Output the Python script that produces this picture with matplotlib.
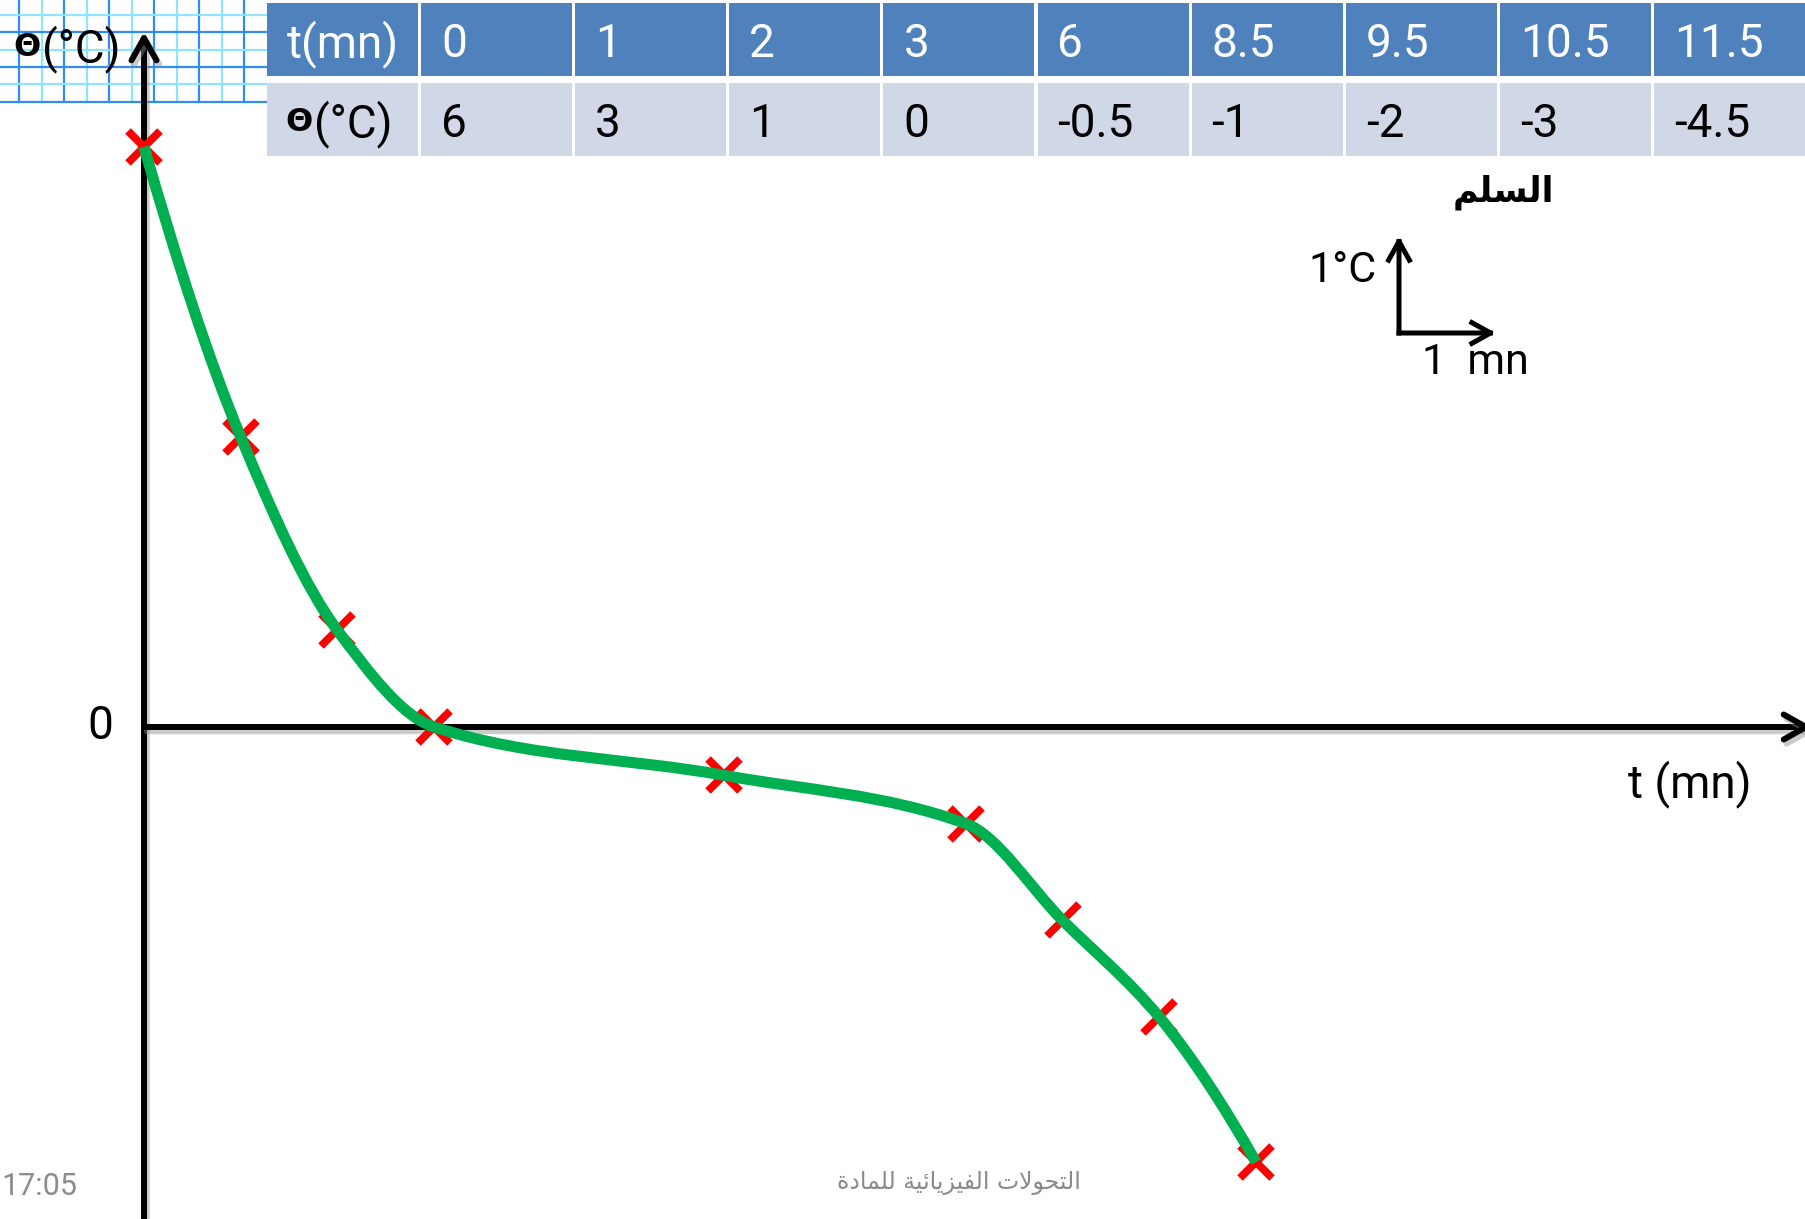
import numpy as np
import matplotlib
matplotlib.use("Agg")
import matplotlib.pyplot as plt
from matplotlib.path import Path
from matplotlib.patches import PathPatch, Rectangle, FancyArrowPatch, ArrowStyle
from matplotlib.lines import Line2D
import matplotlib.patheffects as pe

# ---- data ---------------------------------------------------------------
t_mn = [0, 1, 2, 3, 6, 8.5, 9.5, 10.5, 11.5]
theta_c = [6, 3, 1, 0, -0.5, -1, -2, -3, -4.5]

time_header = "t(mn)"
theta_symbol = "Θ"
theta_unit = "(°C)"
x_axis_label = "t (mn)"
zero_label = "0"
scale_title = "السلم"
scale_labels = ["1°C", "1  mn"]
footer_title = "التحولات الفيزيائية للمادة"
clock_label = "17:05"

# ---- layout -------------------------------------------------------------
W, H, DPI = 1805, 1219, 100
UNIT = 96.7          # pixels per minute / per degree
X0, Y0 = 144, 727    # pixel position of the origin

LATIN = ["Roboto", "DejaVu Sans"]
HEADER_BLUE = "#4F81BD"
ROW_BLUE = "#D0D8E8"
GREEN = "#00B050"
RED = "#FF0000"

fig = plt.figure(figsize=(W / DPI, H / DPI), dpi=DPI)
fig.patch.set_facecolor("white")
ax = fig.add_axes([0, 0, 1, 1])
ax.set_xlim(-X0 / UNIT, (W - X0) / UNIT)
ax.set_ylim(-(H - Y0) / UNIT, Y0 / UNIT)
ax.axis("off")


def fx(x):
    return x / W


def fy(y):
    return 1 - y / H


def ftext(x, y, s, **kw):
    return fig.text(fx(x), fy(y), s, transform=fig.transFigure, **kw)


# ---- Arabic shaping (matplotlib has no contextual shaping) ------------
FORMS = {
    "\u0627": ("\uFE8D", "\uFE8E", None, None),
    "\u0644": ("\uFEDD", "\uFEDE", "\uFEDF", "\uFEE0"),
    "\u0633": ("\uFEB1", "\uFEB2", "\uFEB3", "\uFEB4"),
    "\u0645": ("\uFEE1", "\uFEE2", "\uFEE3", "\uFEE4"),
    "\u062A": ("\uFE95", "\uFE96", "\uFE97", "\uFE98"),
    "\u062D": ("\uFEA1", "\uFEA2", "\uFEA3", "\uFEA4"),
    "\u0648": ("\uFEED", "\uFEEE", None, None),
    "\u0641": ("\uFED1", "\uFED2", "\uFED3", "\uFED4"),
    "\u064A": ("\uFEF1", "\uFEF2", "\uFEF3", "\uFEF4"),
    "\u0632": ("\uFEAF", "\uFEB0", None, None),
    "\u0626": ("\uFE89", "\uFE8A", "\uFE8B", "\uFE8C"),
    "\u0629": ("\uFE93", "\uFE94", None, None),
    "\u062F": ("\uFEA9", "\uFEAA", None, None),
}


def shape_arabic(s):
    tokens, i = [], 0
    while i < len(s):
        if s[i] == "\u0644" and i + 1 < len(s) and s[i + 1] == "\u0627":
            tokens.append("LA")
            i += 2
        else:
            tokens.append(s[i])
            i += 1

    def links_forward(tok):
        return tok in FORMS and FORMS[tok][2] is not None

    def is_letter(tok):
        return tok == "LA" or tok in FORMS

    out = []
    for k, tok in enumerate(tokens):
        prev = tokens[k - 1] if k > 0 else None
        nxt = tokens[k + 1] if k + 1 < len(tokens) else None
        jp = prev is not None and links_forward(prev)
        if tok == "LA":
            out.append("\uFEFC" if jp else "\uFEFB")
            continue
        if tok not in FORMS:
            out.append(tok)
            continue
        iso, fin, ini, med = FORMS[tok]
        jn = ini is not None and nxt is not None and is_letter(nxt)
        if jp and jn:
            out.append(med)
        elif jp:
            out.append(fin)
        elif jn:
            out.append(ini)
        else:
            out.append(iso)
    return "".join(reversed(out))


# ---- graph paper strip in the top-left corner ---------------------------
GRID_DARK, GRID_LIGHT = "#2f8cf2", "#8fe4ff"
for k in range(11):
    x = 19 + 22.5 * k
    fig.add_artist(Line2D([fx(x), fx(x)], [fy(0), fy(102)], transform=fig.transFigure,
                          color=GRID_DARK if k % 2 == 0 else GRID_LIGHT, lw=1.6, zorder=0))
for k in range(6):
    y = 15 + 17.35 * k
    fig.add_artist(Line2D([fx(0), fx(266)], [fy(y), fy(y)], transform=fig.transFigure,
                          color=GRID_LIGHT if k % 2 == 0 else GRID_DARK, lw=1.6, zorder=0))

# ---- data table ---------------------------------------------------------
col_left = [267 + 154.1 * k for k in range(len(t_mn) + 1)]
rows = [(3, 76, 57), (83, 156, 137)]   # top, bottom, text baseline
for c, left in enumerate(col_left):
    width = 151 if c < len(t_mn) else W + 10 - left
    for r, (top, bot, _) in enumerate(rows):
        fig.patches.append(Rectangle((fx(left), fy(bot)), width / W, (bot - top) / H,
                                     transform=fig.transFigure, facecolor=HEADER_BLUE if r == 0 else ROW_BLUE,
                                     edgecolor="none", zorder=1))

cell_font = dict(family=LATIN, fontweight="normal", fontsize=33, va="baseline", ha="left", zorder=3)
ftext(col_left[0] + 20, rows[0][2], time_header, color="white", **cell_font)
ftext(col_left[0] + 18, rows[1][2] - 6, theta_symbol, color="black", family="DejaVu Sans",
      fontweight="bold", fontsize=23, va="baseline", ha="left")
ftext(col_left[0] + 47, rows[1][2], theta_unit, color="black", **cell_font)
for k, (tv, yv) in enumerate(zip(t_mn, theta_c)):
    ftext(col_left[k + 1] + 20, rows[0][2], f"{tv:g}", color="white", **cell_font)
    ftext(col_left[k + 1] + 20, rows[1][2], f"{yv:g}", color="black", **cell_font)

# ---- axes with arrow heads ---------------------------------------------
shadow = [pe.SimpleLineShadow(offset=(2, -3), shadow_color="0.55", alpha=0.45), pe.Normal()]
y_axis = FancyArrowPatch((0, ax.get_ylim()[0] - 0.2), (0, (Y0 - 32) / UNIT),
                         arrowstyle=ArrowStyle("->", head_length=0.8, head_width=0.45),
                         mutation_scale=20, lw=4.3, color="black", shrinkA=0, shrinkB=0,
                         zorder=4, path_effects=shadow)
x_axis = FancyArrowPatch((0, 0), ((1812 - X0) / UNIT, 0),
                         arrowstyle=ArrowStyle("->", head_length=0.8, head_width=0.45),
                         mutation_scale=20, lw=4.3, color="black", shrinkA=0, shrinkB=0,
                         zorder=4, path_effects=shadow)
ax.add_patch(y_axis)
ax.add_patch(x_axis)

label_font = dict(color="black", family=LATIN, fontweight="normal", fontsize=33, va="baseline")
ftext(13, 56, theta_symbol, color="black", family="DejaVu Sans", fontweight="bold",
      fontsize=23, va="baseline", ha="left")
ftext(42, 62, theta_unit, ha="left", **label_font)
ftext(100, 739, zero_label, ha="center", **label_font)
ftext(1690, 797, x_axis_label, ha="center", **label_font)


# ---- smooth temperature curve (monotone cubic through the measurements)
def pchip_slopes(x, y):
    x = np.asarray(x, float)
    y = np.asarray(y, float)
    h = np.diff(x)
    d = np.diff(y) / h
    m = np.zeros_like(y)
    for k in range(1, len(y) - 1):
        if d[k - 1] * d[k] <= 0:
            m[k] = 0.0
        else:
            w1 = 2 * h[k] + h[k - 1]
            w2 = h[k] + 2 * h[k - 1]
            m[k] = (w1 + w2) / (w1 / d[k - 1] + w2 / d[k])
    m[0] = ((2 * h[0] + h[1]) * d[0] - h[0] * d[1]) / (h[0] + h[1])
    m[-1] = ((2 * h[-1] + h[-2]) * d[-1] - h[-1] * d[-2]) / (h[-1] + h[-2])
    return m


slopes = pchip_slopes(t_mn, theta_c)
verts = [(t_mn[0], theta_c[0])]
codes = [Path.MOVETO]
for k in range(len(t_mn) - 1):
    h = t_mn[k + 1] - t_mn[k]
    verts += [(t_mn[k] + h / 3, theta_c[k] + slopes[k] * h / 3),
              (t_mn[k + 1] - h / 3, theta_c[k + 1] - slopes[k + 1] * h / 3),
              (t_mn[k + 1], theta_c[k + 1])]
    codes += [Path.CURVE4] * 3
ax.add_patch(PathPatch(Path(verts, codes), facecolor="none", edgecolor=GREEN, lw=8,
                       capstyle="butt", joinstyle="round", zorder=6))

# measurement crosses
ax.plot(t_mn, theta_c, linestyle="none", marker="x", markersize=23, markeredgewidth=5.6,
        color=RED, zorder=5)

# ---- scale indicator ----------------------------------------------------
sx, sy = (1399 - X0) / UNIT, (Y0 - 333) / UNIT
for dx, dy in [(1, 0), (0, 1)]:
    ax.add_patch(FancyArrowPatch((sx, sy), (sx + dx, sy + dy),
                                 arrowstyle=ArrowStyle("->", head_length=0.9, head_width=0.5),
                                 mutation_scale=15, lw=3.6, color="black", shrinkA=0, shrinkB=0,
                                 capstyle="projecting", zorder=4))
ftext(1377, 282, scale_labels[0], color="black", family=LATIN, fontsize=31,
      va="baseline", ha="right")
ftext(1422, 374, scale_labels[1], color="black", family=LATIN, fontsize=31,
      va="baseline", ha="left")
ftext(1503, 192, shape_arabic(scale_title), color="black", family="DejaVu Sans",
      fontweight="bold", fontsize=25, va="center", ha="center")

# ---- footer -------------------------------------------------------------
ftext(1, 1195, clock_label, color="#8c8c8c", family=LATIN, fontsize=22,
      va="baseline", ha="left")
ftext(959, 1183, shape_arabic(footer_title), color="#8a8a8a", family="DejaVu Sans",
      fontsize=17, va="center", ha="center")

fig.savefig("out.png", dpi=DPI, facecolor="white")
